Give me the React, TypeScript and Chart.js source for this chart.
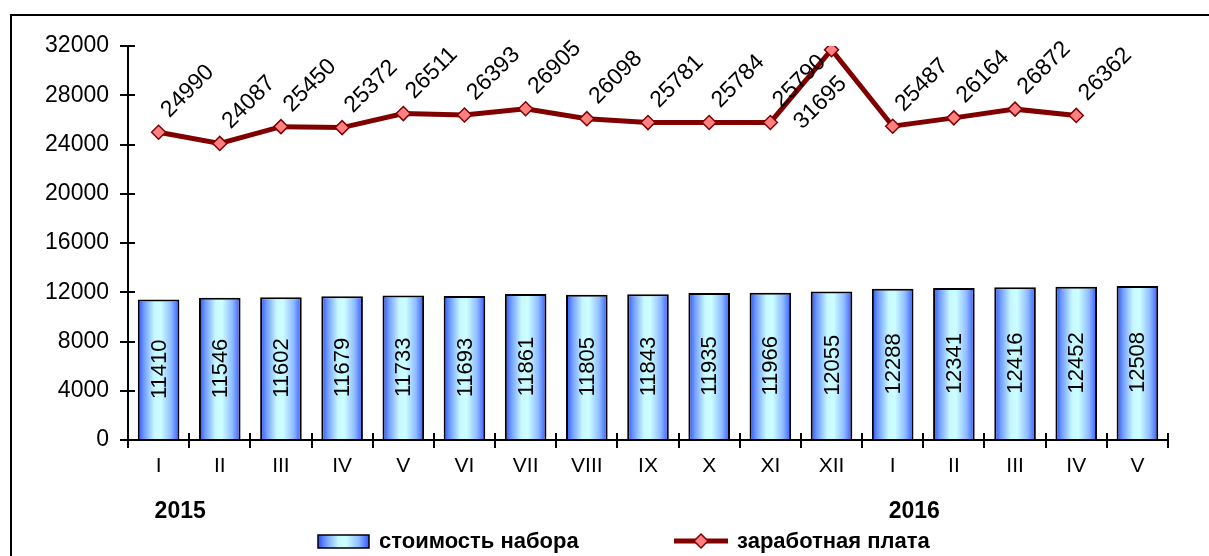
import React, { useEffect, useRef } from "react";
import { Chart, registerables } from "chart.js";

Chart.register(...registerables);

const categories = ["I", "II", "III", "IV", "V", "VI", "VII", "VIII", "IX", "X", "XI", "XII", "I", "II", "III", "IV", "V"];
const years = [
  { label: "2015", index: 0 },
  { label: "2016", index: 12 },
];
const costValues = [11410, 11546, 11602, 11679, 11733, 11693, 11861, 11805, 11843, 11935, 11966, 12055, 12288, 12341, 12416, 12452, 12508];
const wageValues: (number | null)[] = [24990, 24087, 25450, 25372, 26511, 26393, 26905, 26098, 25781, 25784, 25790, 31695, 25487, 26164, 26872, 26362, null];
const costLabel = "стоимость набора";
const wageLabel = "заработная плата";
const yTicksMax = 32000;
const yStep = 4000;

const FONT = "'Liberation Sans', Arial, Helvetica, sans-serif";
const BAR_PCT = 0.68;
const NUM_SIZE = 23;

function makeGradient(ctx: CanvasRenderingContext2D, x0: number, x1: number) {
  const g = ctx.createLinearGradient(x0, 0, x1, 0);
  g.addColorStop(0, "#2a4cff");
  g.addColorStop(0.15, "#6f9cff");
  g.addColorStop(0.4, "#c8f8ff");
  g.addColorStop(0.55, "#ccffff");
  g.addColorStop(0.8, "#90bcff");
  g.addColorStop(1, "#3358ff");
  return g;
}

const labelsPlugin = {
  id: "customLabels",
  beforeDraw(chart: any) {
    const ctx = chart.ctx;
    ctx.save();
    ctx.strokeStyle = "#000";
    ctx.lineWidth = 2;
    ctx.strokeRect(11, 15, 1400, 700);
    ctx.restore();
  },
  afterDatasetsDraw(chart: any) {
    const ctx = chart.ctx;
    const ys = chart.scales.y;
    const area = chart.chartArea;
    ctx.save();
    ctx.strokeStyle = "#000";
    ctx.lineWidth = 2;
    ys.ticks.forEach((t: any) => {
      const py = Math.round(ys.getPixelForValue(t.value));
      ctx.beginPath();
      ctx.moveTo(area.left, py);
      ctx.lineTo(area.left + 7, py);
      ctx.stroke();
    });
    for (let i = 0; i <= categories.length; i++) {
      const px = Math.round(area.left + (i * (area.right - area.left)) / categories.length);
      ctx.beginPath();
      ctx.moveTo(px, area.bottom);
      ctx.lineTo(px, area.bottom - 7);
      ctx.stroke();
    }
    ctx.fillStyle = "#000";
    ctx.font = `22px ${FONT}`;
    const barMeta = chart.getDatasetMeta(1);
    barMeta.data.forEach((el: any, i: number) => {
      const cy = (el.y + el.base) / 2;
      ctx.save();
      ctx.translate(el.x, cy);
      ctx.rotate(-Math.PI / 2);
      ctx.textAlign = "center";
      ctx.textBaseline = "middle";
      ctx.fillText(String(costValues[i]), 0, 1);
      ctx.restore();
    });
    ctx.font = `${NUM_SIZE}px ${FONT}`;
    const lineMeta = chart.getDatasetMeta(0);
    lineMeta.data.forEach((el: any, i: number) => {
      const v = wageValues[i];
      if (v === null || v === undefined) return;
      ctx.save();
      if (i === 11) {
        ctx.translate(el.x + 16, el.y + 35);
        ctx.rotate(-Math.PI / 4);
        ctx.textAlign = "right";
      } else {
        ctx.translate(el.x + 11, el.y - 14);
        ctx.rotate(-Math.PI / 4);
        ctx.textAlign = "left";
      }
      ctx.textBaseline = "alphabetic";
      ctx.fillText(String(v), 0, 0);
      ctx.restore();
    });
    ctx.restore();
  },
  afterDraw(chart: any) {
    const ctx = chart.ctx;
    const xs = chart.scales.x;
    ctx.save();
    ctx.fillStyle = "#000";
    ctx.font = `bold 23px ${FONT}`;
    ctx.textBaseline = "middle";
    ctx.textAlign = "left";
    years.forEach((y) => {
      ctx.fillText(y.label, xs.getPixelForValue(y.index) - 4, 512);
    });
    ctx.font = `bold 22px ${FONT}`;
    const ly = 541;
    ctx.fillStyle = makeGradient(ctx, 318, 369);
    ctx.fillRect(318, 535, 51, 13);
    ctx.strokeStyle = "#000";
    ctx.lineWidth = 1.5;
    ctx.strokeRect(318, 535, 51, 13);
    ctx.fillStyle = "#000";
    ctx.fillText(costLabel, 379, ly + 1);
    ctx.strokeStyle = "#800000";
    ctx.lineWidth = 5;
    ctx.beginPath();
    ctx.moveTo(674, ly);
    ctx.lineTo(728, ly);
    ctx.stroke();
    ctx.beginPath();
    const r = 7;
    ctx.moveTo(701, ly - r);
    ctx.lineTo(701 + r, ly);
    ctx.lineTo(701, ly + r);
    ctx.lineTo(701 - r, ly);
    ctx.closePath();
    ctx.fillStyle = "#ff8080";
    ctx.fill();
    ctx.lineWidth = 1.5;
    ctx.stroke();
    ctx.fillStyle = "#000";
    ctx.fillText(wageLabel, 737, ly + 1);
    ctx.restore();
  },
};

export default function App() {
  const ref = useRef<HTMLCanvasElement | null>(null);
  useEffect(() => {
    document.body.style.margin = "0";
    const canvas = ref.current;
    if (!canvas) return;
    const chart = new Chart(canvas, {
      type: "bar",
      data: {
        labels: categories,
        datasets: [
          {
            type: "line",
            label: wageLabel,
            data: wageValues,
            borderColor: "#800000",
            borderWidth: 5,
            pointStyle: "rectRot",
            pointRadius: 7,
            pointBackgroundColor: "#ff8080",
            pointBorderColor: "#800000",
            pointBorderWidth: 1.5,
            tension: 0,
            spanGaps: false,
            order: 0,
          } as any,
          {
            type: "bar",
            label: costLabel,
            data: costValues,
            backgroundColor: (c: any) => {
              const ch = c.chart;
              const xs = ch.scales && ch.scales.x;
              if (!xs || c.dataIndex === undefined || c.type !== "data") return "#99ccff";
              const cx = xs.getPixelForValue(c.dataIndex);
              const w = (xs.width / categories.length) * BAR_PCT;
              if (!isFinite(cx) || !isFinite(w) || w <= 0) return "#99ccff";
              return makeGradient(ch.ctx, cx - w / 2, cx + w / 2);
            },
            borderColor: "#000",
            borderWidth: 2,
            barPercentage: BAR_PCT,
            categoryPercentage: 1,
            order: 1,
          } as any,
        ],
      },
      options: {
        responsive: false,
        animation: false,
        layout: { padding: { top: 46, right: 41, left: 0, bottom: 0 } },
        plugins: {
          legend: { display: false },
          tooltip: { enabled: false },
        },
        scales: {
          x: {
            grid: {
              display: true,
              drawOnChartArea: false,
              drawTicks: true,
              tickLength: 8,
              color: "#000",
              lineWidth: 2,
              offset: true,
            },
            border: { display: true, color: "#000", width: 2 },
            ticks: {
              color: "#000",
              font: { family: FONT, size: 21 },
              padding: 6,
              maxRotation: 0,
              autoSkip: false,
            },
            afterFit: (s: any) => {
              s.height = 116;
            },
          },
          y: {
            min: 0,
            max: yTicksMax,
            ticks: {
              stepSize: yStep,
              color: "#000",
              font: { family: FONT, size: NUM_SIZE },
              padding: 11,
              callback: (v: any) => String(v),
            },
            grid: {
              display: true,
              drawOnChartArea: false,
              drawTicks: true,
              tickLength: 8,
              color: "#000",
              lineWidth: 2,
            },
            border: { display: true, color: "#000", width: 2 },
            afterFit: (s: any) => {
              s.width = 128;
            },
          },
        },
      },
      plugins: [labelsPlugin],
    });
    return () => chart.destroy();
  }, []);
  return (
    <div style={{ position: "fixed", left: 0, top: 0, width: 1209, height: 556, background: "#fff" }}>
      <canvas ref={ref} width={1209} height={556} style={{ display: "block" }} />
    </div>
  );
}
